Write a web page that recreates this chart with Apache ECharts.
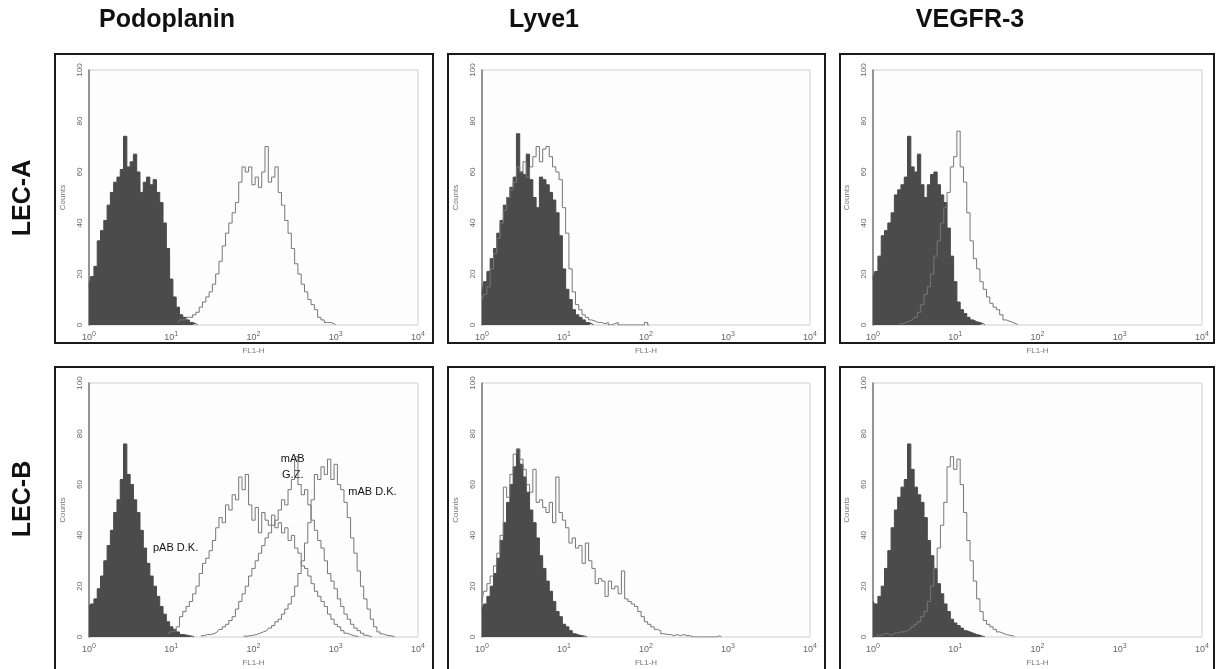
<!DOCTYPE html>
<html>
<head>
<meta charset="utf-8">
<script src="https://cdn.jsdelivr.net/npm/echarts@6/dist/echarts.min.js"></script>
<style>
  html, body { margin: 0; background: #fff; }
  #chart { width: 1216px; height: 669px; }
</style>
</head>
<body>
<div id="chart"></div>
<script>
// channel step in decades (FL1-H is log scale 10^0..10^4)
const STEP = 0.04;

const columns = ['Podoplanin', 'Lyve1', 'VEGFR-3'];
const rows = ['LEC-A', 'LEC-B'];
const xTicks = [1, 10, 100, 1000, 10000];
const yTicks = [0, 20, 40, 60, 80, 100];

// each histogram: first channel index + counts per channel
const aPodControl = { start: 0, counts: [15,19,23,33,37,41,47,52,56,58,61,74,62,64,67,60,52,56,58,55,57,52,48,40,30,18,11,7,4,3,2,1,0.5,0] };
const aPodStain = { start: 27, counts: [1,2,2,3,3,4,5,7,9,11,13,16,20,25,31,36,40,44,48,56,62,60,62,55,58,54,60,70,56,58,62,52,47,41,36,30,24,20,16,13,10,8,6,3,2,1,1,0.5,0] };

const aLyveControl = { start: 0, counts: [12,17,21,26,30,36,41,47,50,54,58,75,60,59,67,57,50,46,58,57,55,52,49,44,35,22,14,10,6,4,3,2,1,0.5,0] };
const aLyveStain = { start: 0, counts: [10,12,15,22,28,34,40,45,50,53,56,62,60,64,58,62,66,70,64,69,70,66,62,60,57,46,36,22,13,8,6,4,3,2,1.5,1,1,0.5,1,0,0.5,1,0,0,0,0,0,0,0,0,1,0] };

const aVegfControl = { start: 0, counts: [18,21,27,35,37,40,44,51,53,55,58,74,62,60,67,55,50,55,59,60,55,51,48,38,27,17,9,6,4.5,3,2,1.3,1,0.5,0] };
const aVegfStain = { start: 8, counts: [0.5,0.5,1,1.5,2,3,5,8,12,15,20,27,33,40,46,52,62,66,76,62,56,44,33,26,22,17,14,11,8.5,7,6,4,2,1.5,1,0.5,0] };

const bPodControl = { start: 0, counts: [12,13,15,19,24,30,36,42,49,54,62,76,64,60,54,49,42,35,29,24,20,16,12,9,6,4,3,2,1,0.8,0.5,0.3,0] };
const bPodPab = { start: 24, counts: [1,2,2.6,4,8,10,12,14,17,20,25,29,31,34,38,43,47,45,52,50,56,54,63,58,64,52,46,51,41,49,46,44,48,43,45,41,43,38,40,35,33,28,27,24,21,18,16,14,12,9,7,5,4,2.5,1.5,1,0.5,0.3,0] };
const bPodMabGZ = { start: 34, counts: [0.5,0.5,1,1,1.3,2,3,4,5,6.5,8,11,14,17,20,24,27,30,33,36,39,41,44,46,50,54,52,58,62,71,60,56,58,52,46,42,38,35,30,25,22,19,15,12,9,7,5,3.5,2.5,1.5,0.7,0.3,0] };
const bPodMabDK = { start: 47, counts: [0.3,0.3,0.5,0.7,1,1.5,2,2.5,3.5,4.5,6,7,9,11,13,16,20,25,30,37,45,54,64,62,67,64,70,62,68,60,58,53,47,39,33,26,20,15,11,7,4,2,1.2,0.7,0.5,0.3,0] };

const bLyveControl = { start: 0, counts: [10.5,13,16,20,25,31,38,45,53,60,67,74,68,63,57,50,45,39,32,27,22,18,14,10,8,5,4,2.5,1.3,0.8,0.5,0.3,0] };
const bLyveStain = { start: 0, counts: [14,18,21,24,28,33,40,59,55,64,72,74,70,66,60,57,66,53,54,51,49,53,45,63,49,46,43,37,39,35,36,29,37,30,27,21,23,22,16,22,19,20,17,26,15,14,13,12,10,8,6,5,4,3,2.5,1.3,1,1,0.5,1,0.5,1,0.5,0.5,0,0,0,0,0,0,0,0,0.5,0] };

const bVegfControl = { start: 0, counts: [14,13,16,20,27,34,43,50,55,59,62,76,66,59,56,53,47,38,32,27,21,17,13,10,7,5.5,4.5,3.5,2.5,2,1.5,1,0.7,0.3,0] };
const bVegfStain = { start: 1, counts: [1,0.5,1,1.5,1,0.7,1.5,2,2,2.6,3,4,5,6,8,10,14,20,27,35,44,53,67,71,66,70,60,49,38,30,22,15,10,6.5,5,4,3,2,1.5,1,0.7,0.5,0] };

// panels: [control, stained...] per grid, row-major
const panels = [
  [aPodControl, aPodStain],
  [aLyveControl, aLyveStain],
  [aVegfControl, aVegfStain],
  [bPodControl, bPodPab, bPodMabGZ, bPodMabDK],
  [bLyveControl, bLyveStain],
  [bVegfControl, bVegfStain]
];

// annotation labels on the LEC-B podoplanin panel (data coords)
const annotations = [
  { text: 'pAB D.K.', x: 6, y: 35, align: 'left' },
  { text: 'mAB\nG.Z.', x: 300, y: 67, align: 'center' },
  { text: 'mAB D.K.', x: 1420, y: 57, align: 'left' }
];

function toPoints(h) {
  return h.counts.map((c, i) => [Math.pow(10, (h.start + i) * STEP), c]);
}

const chart = echarts.init(document.getElementById('chart'));

const gridLefts = [89, 482, 873];
const gridWidths = [329, 328, 329];
const gridTops = [70, 383];
const gridHeights = [255, 254];

const grids = [], xAxes = [], yAxes = [], series = [];
panels.forEach((hists, p) => {
  const r = Math.floor(p / 3), c = p % 3;
  grids.push({
    left: gridLefts[c], top: gridTops[r], width: gridWidths[c], height: gridHeights[r],
    show: true, borderColor: '#cfcfcf', borderWidth: 1, backgroundColor: '#fdfdfd'
  });
  xAxes.push({
    type: 'log', logBase: 10, gridIndex: p, min: xTicks[0], max: xTicks[xTicks.length - 1],
    name: 'FL1-H', nameLocation: 'middle', nameGap: 22,
    nameTextStyle: { fontSize: 8, color: '#777', fontFamily: 'Liberation Sans' },
    axisLine: { show: false }, axisTick: { show: false }, splitLine: { show: false },
    axisLabel: {
      margin: 6,
      formatter: v => '{b|10}{s|' + Math.round(Math.log10(v)) + '}',
      rich: {
        b: { fontSize: 9, color: '#666', fontFamily: 'Liberation Sans' },
        s: { fontSize: 7, color: '#666', fontFamily: 'Liberation Sans', padding: [0, 0, 6, 0] }
      }
    }
  });
  yAxes.push({
    type: 'value', gridIndex: p, min: 0, max: 100, interval: 20,
    name: 'Counts', nameLocation: 'middle', nameGap: 22, nameRotate: 90,
    nameTextStyle: { fontSize: 8, color: '#777', fontFamily: 'Liberation Sans' },
    axisLine: { show: true, lineStyle: { color: '#777', width: 1.5 } },
    axisTick: { show: false }, splitLine: { show: false },
    axisLabel: { rotate: 90, fontSize: 8, color: '#666', margin: 5, fontFamily: 'Liberation Sans' }
  });
  hists.forEach((h, k) => {
    const filled = k === 0;
    series.push({
      type: 'line', xAxisIndex: p, yAxisIndex: p, data: toPoints(h),
      step: 'middle', showSymbol: false, silent: true,
      lineStyle: { color: filled ? '#484848' : '#777777', width: 1 },
      areaStyle: filled ? { color: '#4b4b4b', opacity: 1 } : undefined,
      z: filled ? 2 : 3
    });
  });
});

const frames = [];
const frameX = [[55, 378], [448, 377], [840, 374]];
const frameY = [[54, 289], [367, 310]];
frameY.forEach(fy => frameX.forEach(fx => frames.push({
  type: 'rect', shape: { x: fx[0], y: fy[0], width: fx[1], height: fy[1] },
  style: { fill: 'none', stroke: '#1a1a1a', lineWidth: 2 }, z: 100
})));

const titleFont = 'bold 25px "Liberation Sans", Arial, sans-serif';
const titleX = [167, 544, 970];
const headers = columns.map((t, i) => ({
  type: 'text', x: titleX[i], y: 20,
  style: { text: t, font: titleFont, fill: '#111', align: 'center', verticalAlign: 'middle' }
}));
const rowY = [198, 499];
const rowLabels = rows.map((t, i) => ({
  type: 'text', x: 23, y: rowY[i], rotation: Math.PI / 2,
  style: { text: t, font: titleFont, fill: '#111', align: 'center', verticalAlign: 'middle' }
}));

chart.setOption({
  animation: false,
  grid: grids,
  xAxis: xAxes,
  yAxis: yAxes,
  series: series,
  graphic: frames.concat(headers, rowLabels)
});

// annotation text placed through the panel's own scales
const notes = annotations.map(a => {
  const pt = chart.convertToPixel({ gridIndex: 3 }, [a.x, a.y]);
  return {
    type: 'text', x: pt[0], y: pt[1],
    style: { text: a.text, font: '11px "Liberation Sans", Arial, sans-serif', fill: '#111',
      align: a.align, verticalAlign: 'middle', lineHeight: 16 }
  };
});
chart.setOption({ graphic: frames.concat(headers, rowLabels, notes) });
</script>
</body>
</html>
